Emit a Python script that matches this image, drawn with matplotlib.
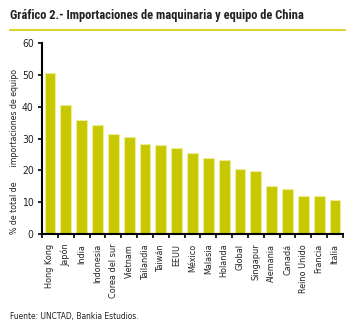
import matplotlib
matplotlib.use('Agg')
import matplotlib.pyplot as plt
from matplotlib.lines import Line2D
from matplotlib import font_manager

paises = ['Hong Kong', 'Japón', 'India', 'Indonesia', 'Corea del sur', 'Vietnam',
          'Tailandia', 'Taiwán', 'EEUU', 'México', 'Malasia', 'Holanda', 'Global',
          'Singapur', 'Alemania', 'Canadá', 'Reino Unido', 'Francia', 'Italia']
valores = [50.6, 40.5, 35.7, 34.4, 31.3, 30.5, 28.2, 28.0, 26.9, 25.6, 23.8,
           23.2, 20.4, 19.7, 15.0, 14.2, 12.1, 11.8, 10.6]
yticks = [0, 10, 20, 30, 40, 50, 60]

plt.rcParams['font.family'] = ['DejaVu Sans']
plt.rcParams['font.stretch'] = 'condensed'

# narrow bold font for the title, if one is installed
nombres = {f.name for f in font_manager.fontManager.ttflist}
titulo_font = 'DejaVu Sans'
for cand in ['Liberation Sans Narrow', 'Roboto Condensed', 'Open Sans Condensed']:
    if cand in nombres:
        titulo_font = cand
        break

fig = plt.figure(figsize=(3.5, 3.26), dpi=100)
ax = fig.add_axes([0.12, 0.282, 0.86, 0.586])

x = list(range(len(paises)))
ax.bar(x, valores, width=0.68, color='#c8c800', edgecolor='#ecec9a', linewidth=0.8)

ax.set_xlim(-0.5, len(paises) - 0.5)
ax.set_ylim(0, 60)
ax.set_yticks(yticks)
ax.set_yticklabels([str(v) for v in yticks], fontsize=7.5, color='#222222')
ax.set_xticks([i - 0.5 for i in range(len(paises) + 1)])
ax.set_xticklabels([])
ax.set_xticks(x, minor=True)
ax.set_xticklabels(paises, minor=True, rotation=90, fontsize=6.5, color='#222222')
ax.tick_params(axis='x', which='minor', length=0, pad=7)
ax.tick_params(axis='x', which='major', length=3, width=1.2, direction='out')
ax.tick_params(axis='y', length=3, width=1.2, direction='out', pad=3)
for s in ['top', 'right']:
    ax.spines[s].set_visible(False)
for s in ['left', 'bottom']:
    ax.spines[s].set_linewidth(1.5)
    ax.spines[s].set_color('black')

fig.text(15 / 350, 1 - 152 / 326, '% de total de      importaciones de equipo',
         rotation=90, ha='center', va='center', fontsize=6.3, color='#222222')

tam = 9 if titulo_font != 'DejaVu Sans' else 7.8
fig.text(10 / 350, 1 - 16 / 326, 'Gráfico 2.- Importaciones de maquinaria y equipo de China',
         ha='left', va='center', fontsize=tam, fontweight='bold', color='#222222',
         family=titulo_font)
fig.add_artist(Line2D([10 / 350, 345 / 350], [1 - 29.5 / 326, 1 - 29.5 / 326],
                      color='#d8cc00', linewidth=1.2, transform=fig.transFigure))

fig.text(10 / 350, 1 - 316 / 326, 'Fuente: UNCTAD, Bankia Estudios.',
         ha='left', va='center', fontsize=6, color='#222222')

fig.savefig('out.png', dpi=100)
